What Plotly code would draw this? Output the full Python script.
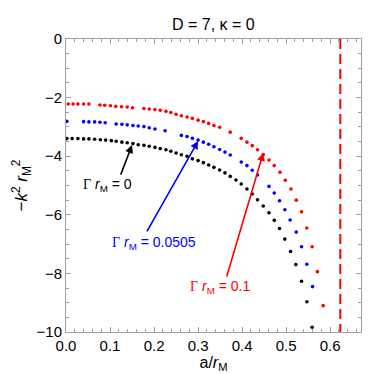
import plotly.graph_objects as go

# Gamma r_M = 0 (black)
black_x = [0.002, 0.014, 0.027, 0.040, 0.052, 0.065, 0.078, 0.090, 0.103, 0.114,
           0.127, 0.139, 0.152, 0.164, 0.177, 0.189, 0.202, 0.214, 0.227, 0.238,
           0.250, 0.262, 0.275, 0.287, 0.300, 0.312, 0.324, 0.336, 0.349, 0.361,
           0.373, 0.386, 0.398, 0.411, 0.423, 0.435, 0.448, 0.461, 0.473, 0.485,
           0.497, 0.510, 0.522, 0.535, 0.547, 0.559]
black_y = [-3.40, -3.40, -3.40, -3.41, -3.41, -3.42, -3.44, -3.45, -3.47, -3.49,
           -3.52, -3.54, -3.57, -3.61, -3.63, -3.66, -3.70, -3.74, -3.78, -3.83,
           -3.89, -3.95, -4.00, -4.09, -4.15, -4.22, -4.30, -4.38, -4.47, -4.57,
           -4.69, -4.81, -4.95, -5.12, -5.29, -5.49, -5.70, -5.93, -6.19, -6.47,
           -6.83, -7.25, -7.70, -8.27, -8.97, -9.84]

# Gamma r_M = 0.0505 (blue)
blue_x = [0.002, 0.040, 0.052, 0.065, 0.077, 0.089,
          0.114, 0.127, 0.139, 0.152, 0.164, 0.177, 0.189, 0.202,
          0.225,
          0.262, 0.275, 0.287, 0.300, 0.312, 0.324, 0.336, 0.349, 0.361, 0.373,
          0.398, 0.411, 0.423, 0.435,
          0.461, 0.473, 0.485, 0.497, 0.509, 0.523, 0.535, 0.547, 0.560]
blue_y = [-2.81, -2.82, -2.83, -2.83, -2.84, -2.86,
          -2.90, -2.91, -2.93, -2.95, -2.97, -2.99, -3.03, -3.07,
          -3.13,
          -3.29, -3.33, -3.39, -3.45, -3.52, -3.59, -3.68, -3.77, -3.86, -3.96,
          -4.20, -4.32, -4.48, -4.64,
          -5.03, -5.26, -5.52, -5.83, -6.18, -6.59, -7.09, -7.69, -8.45]

# Gamma r_M = 0.1 (red)
red_x = [0.005, 0.016, 0.027, 0.040, 0.052,
         0.077, 0.088, 0.101, 0.113, 0.126, 0.139, 0.151,
         0.177, 0.189, 0.202, 0.214, 0.227, 0.238, 0.250, 0.262, 0.275, 0.287,
         0.300, 0.312, 0.324, 0.336, 0.349,
         0.373,
         0.398, 0.411, 0.423, 0.435, 0.448, 0.461, 0.473, 0.486, 0.498, 0.511,
         0.523, 0.535, 0.547, 0.559, 0.571, 0.584]
red_y = [-2.22, -2.22, -2.22, -2.22, -2.22,
         -2.25, -2.26, -2.28, -2.30, -2.31, -2.32, -2.35,
         -2.37, -2.39, -2.41, -2.43, -2.47, -2.51, -2.57, -2.62, -2.66, -2.71,
         -2.77, -2.82, -2.88, -2.95, -3.01,
         -3.18,
         -3.39, -3.52, -3.64, -3.78, -3.94, -4.13, -4.32, -4.55, -4.82, -5.12,
         -5.50, -5.90, -6.45, -7.09, -7.94, -9.10]

a_limit = 0.623  # dashed vertical line

FONT = "Liberation Sans"
GRAY = "#a0a0a0"

fig = go.Figure()
for xs, ys, col in [(black_x, black_y, "black"),
                    (blue_x, blue_y, "#0000ff"),
                    (red_x, red_y, "#ff0000")]:
    fig.add_trace(go.Scatter(x=xs, y=ys, mode="markers",
                             marker=dict(color=col, size=3.6),
                             showlegend=False, hoverinfo="skip"))

fig.add_trace(go.Scatter(x=[a_limit, a_limit], y=[0, -10], mode="lines",
                         line=dict(color="#ff0000", width=2, dash="10px,5px"),
                         showlegend=False, hoverinfo="skip"))

# labels and arrows: (text, text_x, text_y, tail_x, tail_y, tip_x, tip_y, color)
labels = [
    ("0", 0.095, -4.98, 0.123, -4.68, 0.150, -3.62, "black"),
    ("0.0505", 0.20, -6.96, 0.182, -6.62, 0.300, -3.48, "#0000ff"),
    ("0.1", 0.349, -8.46, 0.364, -8.16, 0.448, -3.89, "#ff0000"),
]
for val, tx, ty, ax, ay, hx, hy, col in labels:
    fig.add_annotation(x=hx, y=hy, ax=ax, ay=ay, xref="x", yref="y",
                       axref="x", ayref="y", text="", showarrow=True,
                       arrowhead=2, arrowsize=1, arrowwidth=1.6, arrowcolor=col)
    fig.add_annotation(x=tx, y=ty, xref="x", yref="y", showarrow=False,
                       text="<span style='font-family:Liberation Serif'>\u0393</span> "
                            "<i>r</i><sub>M</sub> = " + val,
                       font=dict(family=FONT, size=14, color=col))

axis_common = dict(showline=True, mirror="ticks", linecolor=GRAY, linewidth=1,
                   ticks="inside", ticklen=5, tickcolor=GRAY, showgrid=False,
                   zeroline=False, tickfont=dict(family=FONT, size=15, color="black"))

fig.update_xaxes(range=[0, 0.67], dtick=0.1, tick0=0, tickformat=".1f",
                 minor=dict(dtick=0.02, ticks="inside", ticklen=3, tickcolor=GRAY),
                 title=dict(text="a/<i>r</i><sub>M</sub>",
                            font=dict(family=FONT, size=16, color="black"),
                            standoff=3),
                 **axis_common)
fig.update_yaxes(range=[-10, 0], dtick=2, tick0=0,
                 minor=dict(dtick=0.5, ticks="inside", ticklen=3, tickcolor=GRAY),
                 title=dict(text="\u2212<i>k</i><sup>2</sup> <i>r</i><sub>M</sub><sup>2</sup>",
                            font=dict(family=FONT, size=17, color="black"),
                            standoff=4),
                 **axis_common)

fig.update_layout(
    width=374, height=374,
    margin=dict(l=58, r=21, t=31, b=50),
    paper_bgcolor="white", plot_bgcolor="white",
    title=dict(text="D = 7, \u03ba = 0", x=0.549, xanchor="center",
               y=0.955, yanchor="middle",
               font=dict(family=FONT, size=16, color="black")),
)

fig.write_html("out.html")
